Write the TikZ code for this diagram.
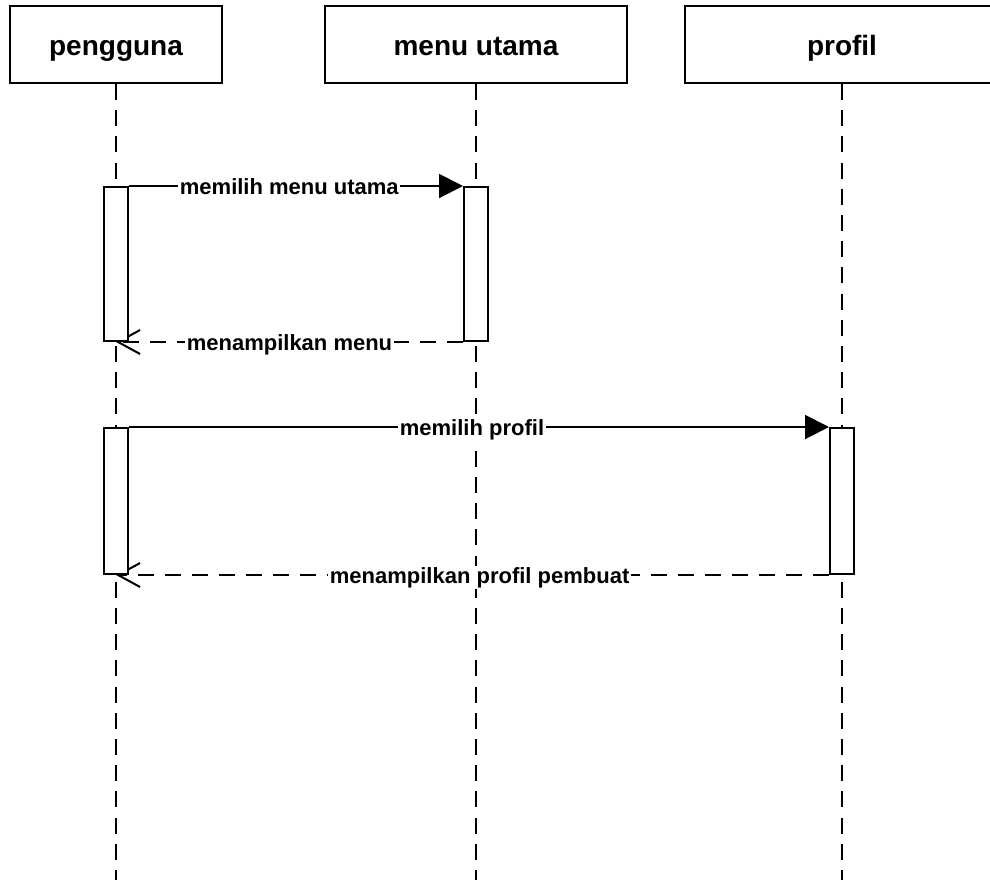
\documentclass[tikz,border=0pt]{standalone}
\usepackage{fontspec}
\setmainfont{Liberation Sans}
\usetikzlibrary{arrows.meta}
\begin{document}
\begin{tikzpicture}[x=1pt,y=-1pt,line width=2pt,
  actor/.style={draw,fill=white,minimum height=77pt,inner sep=0pt,
    text height=27pt,text depth=6pt,
    font=\fontsize{28}{30}\selectfont\bfseries},
  actbar/.style={draw,fill=white,minimum width=24pt,inner sep=0pt},
  lifeline/.style={dash pattern=on 16pt off 10.2pt},
  callmsg/.style={-{Triangle[length=24pt,width=24pt]}},
  retmsg/.style={dash pattern=on 16pt off 11pt,-{Straight Barb[length=22pt,width=24pt]}},
  lbl/.style={fill=white,inner xsep=1.5pt,inner ysep=1pt,anchor=base,yshift=-8pt,
    font=\fontsize{22}{24}\selectfont\bfseries}]
\useasboundingbox (0,0) rectangle (990,879);

% participants
\node[actor,minimum width=212pt] (pengguna) at (116,44.5) {pengguna};
\node[actor,minimum width=302pt] (menu) at (476,44.5) {menu utama};
\node[actor,minimum width=314pt] (profil) at (842,44.5) {profil};

% lifeline ends
\coordinate (pengguna-end) at (116,885);
\coordinate (menu-end) at (476,885);
\coordinate (profil-end) at (842,885);

\draw[lifeline] (pengguna.south) -- (pengguna-end);
\draw[lifeline] (menu.south) -- (menu-end);
\draw[lifeline] (profil.south) -- (profil-end);

% activation bar positions
\coordinate (c1) at (116,264);
\coordinate (c2) at (476,264);
\coordinate (c3) at (116,501);
\coordinate (c4) at (842,501);

% invisible placeholders for the bars (drawn later on top of the messages)
\path (c1) node[actbar,minimum height=154pt,draw=none,fill=none] (a1) {};
\path (c2) node[actbar,minimum height=154pt,draw=none,fill=none] (a2) {};
\path (c3) node[actbar,minimum height=146pt,draw=none,fill=none] (a3) {};
\path (c4) node[actbar,minimum height=146pt,draw=none,fill=none] (a4) {};

% messages
\draw[callmsg] (a1.north east) -- (a2.north west)
  node[lbl,pos=0.48] {memilih menu utama};
\draw[retmsg] (a2.south west) -- (a1.south)
  node[lbl,pos=0.5] {menampilkan menu};
\draw[callmsg] (a3.north east) -- (a4.north west)
  node[lbl,pos=0.49] {memilih profil};
\draw[retmsg] (a4.south west) -- (a3.south)
  node[lbl,pos=0.49] {menampilkan profil pembuat};

% activation bars
\node[actbar,minimum height=154pt] (b1) at (c1) {};
\node[actbar,minimum height=154pt] (b2) at (c2) {};
\node[actbar,minimum height=146pt] (b3) at (c3) {};
\node[actbar,minimum height=146pt] (b4) at (c4) {};
\end{tikzpicture}
\end{document}
